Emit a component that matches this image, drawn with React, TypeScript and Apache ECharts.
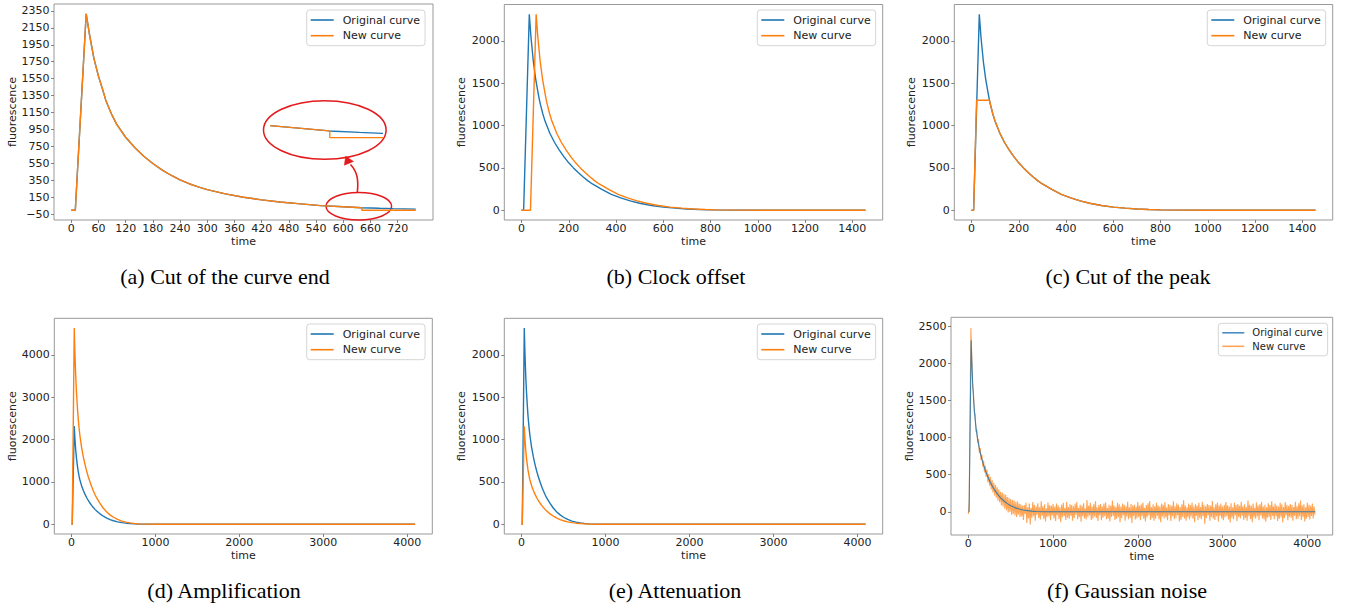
import React, { useEffect, useRef } from 'react';
import * as echarts from 'echarts';

const BLUE = '#1f77b4';
const ORANGE = '#ff7f0e';
const RED = '#e41a1c';

// (a) original curve and the curve with its end cut
const aOrigT = [0, 9, 33, 40, 50, 60, 70, 76, 80, 90, 100, 120, 140, 160, 180, 200, 220, 240, 260, 280, 300, 340, 380, 420, 460, 500, 550, 600, 640, 680, 710, 760];
const aOrigV = [0, 0, 2315, 2080, 1790, 1580, 1410, 1300, 1245, 1120, 1015, 860, 740, 635, 550, 475, 412, 357, 312, 275, 243, 192, 153, 122, 97, 77, 54, 40, 28, 22, 18, 13];
const cutEndT = [0, 9, 33, 40, 50, 60, 70, 76, 80, 90, 100, 120, 140, 160, 180, 200, 220, 240, 260, 280, 300, 340, 380, 420, 460, 500, 550, 600, 641, 641, 760];
const cutEndV = [0, 0, 2315, 2080, 1790, 1580, 1410, 1300, 1245, 1120, 1015, 860, 740, 635, 550, 475, 412, 357, 312, 275, 243, 192, 153, 122, 97, 77, 54, 40, 28, 0, 0];

// (b)-(f) original curve
const origT = [0, 9, 33, 40, 50, 60, 70, 76, 80, 90, 100, 120, 140, 160, 180, 200, 220, 240, 260, 280, 300, 340, 380, 420, 460, 500, 550, 600, 650, 700, 750, 800, 900, 1000, 1456, 4095];
const origV = [0, 0, 2315, 2050, 1760, 1550, 1390, 1300, 1250, 1140, 1050, 910, 800, 710, 630, 560, 500, 445, 395, 350, 310, 245, 188, 145, 110, 82, 56, 37, 24, 15, 8, 4, 1, 0, 0, 0];

// (b) clock offset
const offsetT = [0, 38, 62, 69, 79, 89, 99, 105, 109, 119, 129, 149, 169, 189, 209, 229, 249, 269, 289, 309, 329, 369, 409, 449, 489, 529, 579, 629, 679, 729, 779, 829, 929, 1029, 1456];
const offsetV = [0, 0, 2315, 2050, 1760, 1550, 1390, 1300, 1250, 1140, 1050, 910, 800, 710, 630, 560, 500, 445, 395, 350, 310, 245, 188, 145, 110, 82, 56, 37, 24, 15, 8, 4, 1, 0, 0];

// (c) cut of the peak
const cutPeakT = [0, 9, 21.5, 76, 80, 90, 100, 120, 140, 160, 180, 200, 220, 240, 260, 280, 300, 340, 380, 420, 460, 500, 550, 600, 650, 700, 750, 800, 900, 1000, 1456];
const cutPeakV = [0, 0, 1300, 1300, 1250, 1140, 1050, 910, 800, 710, 630, 560, 500, 445, 395, 350, 310, 245, 188, 145, 110, 82, 56, 37, 24, 15, 8, 4, 1, 0, 0];

// (d) amplification (times = origT)
const ampV = [0, 0, 4630, 4100, 3520, 3100, 2780, 2600, 2500, 2280, 2100, 1820, 1600, 1420, 1260, 1120, 1000, 890, 790, 700, 620, 490, 376, 290, 220, 164, 112, 74, 48, 30, 16, 8, 2, 0, 0, 0];

// (e) attenuation (times = origT)
const attV = [0, 0, 1157, 1025, 880, 775, 695, 650, 625, 570, 525, 455, 400, 355, 315, 280, 250, 222, 198, 175, 155, 122, 94, 72, 55, 41, 28, 18, 12, 8, 4, 2, 0, 0, 0, 0];

// (f) gaussian noise, sampled every NOISE_STEP time units from 0
const NOISE_STEP = 10;
const noisyV = [
  -30, 150, 1290, 2480, 2090, 1680, 1620, 1330, 1320, 1080,
  1110, 930, 980, 790, 860, 700, 770, 610, 690, 530, 620, 470, 570, 400, 510, 350, 470, 300, 430, 260,
  390, 220, 360, 190, 330, 150, 300, 130, 270, 90, 260, 70, 240, 40, 230, 20, 200, -10, 190, 0,
  170, -40, 160, -30, 150, -50, 130, -70, 140, -40, 110,
  -70, 100, -60, 80, -110, 90, -30, 120, -150, 60, -90, 110, -170, 50, -80, 130, -60, 95, -120, 70,
  -40, 115, -85, 60, -105, 140, -55, 75, -95, 100, -130, 45, -70, 125, -65, 90, -115, 80, -50, 105,
  -90, 70, -125, 110, -45, 85, -100, 60, -140, 95, -75, 120, -60, 50, -110, 135, -80, 65, -95, 100,
  -55, 90, -120, 75, -85, 110, -40, 130, -100, 55, -70, 95, -135, 80, -60, 115, -90, 45, -105, 160,
  -75, 85, -50, 120, -110, 70, -95, 100, -65, 140, -85, 60, -125, 90, -45, 105, -115, 75, -80, 110,
  -60, 125, -100, 55, -90, 95, -130, 80, -70, 150, -55, 85, -110, 65, -95, 120, -75, 100, -140, 70,
  -85, 110, -45, 90, -120, 75, -65, 135, -100, 60, -80, 105, -150, 85, -55, 95, -105, 70, -90, 130,
  -70, 80, -115, 100, -60, 125, -95, 55, -130, 90, -75, 115, -50, 145, -110, 65, -85, 100, -120, 75,
  -95, 120, -55, 85, -105, 70, -140, 110, -65, 95, -90, 130, -75, 60, -115, 105, -50, 90, -125, 80,
  -60, 140, -100, 75, -85, 115, -45, 95, -130, 65, -110, 100, -70, 155, -90, 85, -120, 60, -75, 110,
  -105, 90, -65, 125, -95, 70, -140, 100, -55, 85, -115, 120, -80, 65, -100, 135, -60, 95, -160, 75,
  -85, 105, -50, 90, -120, 80, -70, 145, -95, 60, -110, 100, -65, 125, -130, 85, -55, 110, -90, 70,
  -115, 95, -75, 130, -60, 85, -105, 70, -145, 115, -80, 60, -100, 120, -50, 90, -125, 105, -70, 80,
  -90, 135, -55, 75, -110, 100, -85, 65, -120, 150, -60, 95, -100, 80, -140, 110, -75, 55, -95, 125,
  -65, 85, -115, 100, -50, 130, -90, 70, -105, 95, -135, 60, -80, 115, -70, 90, -110, 140, -55, 75,
  -100, 110, -60, 85, -125, 70, -95, 120, -75, 100, -145, 65, -85, 130, -50, 95, -115, 80, -70, 105,
  -80, 90, -120, 65, -55, 135, -100, 75, -90, 115, -60, 150, -110, 85, -75, 100, -130, 60, -95, 120,
  -70, 95, -105, 80, -55, 110, -90, 70, -40,
];

// tick labels
const xTicksA = [0, 60, 120, 180, 240, 300, 360, 420, 480, 540, 600, 660, 720];
const yTicksA = [-50, 150, 350, 550, 750, 950, 1150, 1350, 1550, 1750, 1950, 2150, 2350];
const xTicksBC = [0, 200, 400, 600, 800, 1000, 1200, 1400];
const yTicks2000 = [0, 500, 1000, 1500, 2000];
const xTicksDEF = [0, 1000, 2000, 3000, 4000];
const yTicksD = [0, 1000, 2000, 3000, 4000];
const yTicksF = [0, 500, 1000, 1500, 2000, 2500];

const captions = ['(a) Cut of the curve end', '(b) Clock offset', '(c) Cut of the peak', '(d) Amplification', '(e) Attenuation', '(f) Gaussian noise'];
const names = ['Original curve', 'New curve'];

const pairs = (t: number[], v: number[]) => t.map((x, i) => [x, v[i]]);
const upTo = (t: number[], v: number[], tmax: number) => pairs(t, v).filter((p) => p[0] <= tmax);

export default function App() {
  const ref = useRef<HTMLDivElement>(null);
  useEffect(() => {
    document.body.style.margin = '0';
    const chart = echarts.init(ref.current!, null, { renderer: 'svg' });
    const FONT = 'DejaVu Sans';
    const fmt = (v: number) => String(v).replace('-', '\u2212');

    const grids = [
      { left: 54, top: 4, width: 379, height: 216 },
      { left: 504.3, top: 4.5, width: 378.4, height: 215.5 },
      { left: 954.3, top: 4.5, width: 378.4, height: 215.5 },
      { left: 54.3, top: 318.3, width: 378, height: 215.7 },
      { left: 504.3, top: 318.3, width: 378.4, height: 215.7 },
      { left: 951, top: 317.3, width: 381.7, height: 217.7 },
    ];
    const xr = [[-38, 798], [-72.8, 1528.8], [-72.8, 1528.8], [-204.75, 4299.75], [-204.75, 4299.75], [-204.75, 4299.75]];
    const yr = [[-115.75, 2430.75], [-115.75, 2430.75], [-115.75, 2430.75], [-231.5, 4861.5], [-115.75, 2430.75], [-313.5, 2623.5]];
    const xt = [xTicksA, xTicksBC, xTicksBC, xTicksDEF, xTicksDEF, xTicksDEF];
    const yt = [yTicksA, yTicks2000, yTicks2000, yTicksD, yTicks2000, yTicksF];
    const yNameGap = [36, 37, 37, 36, 37, 33];

    const gridOpt: any[] = grids.map((g) => ({ ...g, show: true, borderColor: '#999', borderWidth: 1, backgroundColor: 'transparent' }));
    gridOpt.push({ left: 271, top: 124.1, width: 110.7, height: 14.7, show: false });

    const xAxis: any[] = grids.map((_, i) => ({
      type: 'value', gridIndex: i, min: xr[i][0], max: xr[i][1],
      axisLine: { show: false, onZero: false },
      splitLine: { show: false },
      axisTick: { show: true, customValues: xt[i], length: 3, lineStyle: { color: '#666', width: 0.8 } },
      axisLabel: { customValues: xt[i], formatter: fmt, margin: 3, color: '#222', fontFamily: FONT, fontSize: 11 },
      name: 'time', nameLocation: 'middle', nameGap: 16,
      nameTextStyle: { fontFamily: FONT, fontSize: 11, color: '#222' },
    }));
    xAxis.push({ type: 'value', gridIndex: 6, min: 564, max: 709, show: false });

    const yAxis: any[] = grids.map((_, i) => ({
      type: 'value', gridIndex: i, min: yr[i][0], max: yr[i][1],
      axisLine: { show: false, onZero: false },
      splitLine: { show: false },
      axisTick: { show: true, customValues: yt[i], length: 3, lineStyle: { color: '#666', width: 0.8 } },
      axisLabel: { customValues: yt[i], formatter: fmt, margin: 4.5, color: '#222', fontFamily: FONT, fontSize: 11 },
      name: 'fluorescence', nameLocation: 'middle', nameGap: yNameGap[i], nameRotate: 90,
      nameTextStyle: { fontFamily: FONT, fontSize: 11, color: '#222' },
    }));
    yAxis.push({ type: 'value', gridIndex: 6, min: -5, max: 57, show: false });

    const line = (name: string, idx: number, data: number[][], color: string, extra: any = {}) => ({
      type: 'line', name, xAxisIndex: idx, yAxisIndex: idx, data, showSymbol: false, symbol: 'none',
      lineStyle: { color, width: 1.4 }, itemStyle: { color }, silent: true, ...extra,
    });

    const noisyPairs = noisyV.map((v, i) => [i * NOISE_STEP, v]);

    const series: any[] = [
      line(names[0], 0, pairs(aOrigT, aOrigV), BLUE),
      line(names[1], 0, pairs(cutEndT, cutEndV), ORANGE),
      line(names[0], 1, upTo(origT, origV, 1456), BLUE),
      line(names[1], 1, pairs(offsetT, offsetV), ORANGE),
      line(names[0], 2, upTo(origT, origV, 1456), BLUE),
      line(names[1], 2, pairs(cutPeakT, cutPeakV), ORANGE),
      line(names[0], 3, pairs(origT, origV), BLUE),
      line(names[1], 3, pairs(origT, ampV), ORANGE),
      line(names[0], 4, pairs(origT, origV), BLUE),
      line(names[1], 4, pairs(origT, attV), ORANGE),
      line(names[0], 5, pairs(origT, origV), BLUE, { z: 4, lineStyle: { color: BLUE, width: 1.1, opacity: 0.85 } }),
      line(names[1], 5, noisyPairs, ORANGE, { z: 3, lineStyle: { color: ORANGE, width: 1.1, opacity: 0.7 } }),
      // inset (magnified view of the cut)
      line('inset-orig', 6, pairs(aOrigT, aOrigV), BLUE, { clip: true, lineStyle: { color: BLUE, width: 1.3 } }),
      line('inset-new', 6, pairs(cutEndT, cutEndV), ORANGE, { clip: true, lineStyle: { color: ORANGE, width: 1.3 } }),
    ];

    const legendPos = [
      [306.7, 10, 11], [757.3, 10, 11], [1207.3, 10, 11],
      [306.7, 324, 11], [757.3, 324, 11], [1218.3, 323.3, 10],
    ];
    const legend = legendPos.map(([l, t, fs], i) => ({
      orient: 'vertical', left: l, top: t, icon: 'rect', itemWidth: i === 5 ? 22 : 23, itemHeight: 1.6,
      itemGap: i === 5 ? 3.5 : 4.7,
      padding: [4.5, 5, 4.5, 4],
      backgroundColor: 'rgba(255,255,255,0.8)', borderColor: '#d5d5d5', borderWidth: 1, borderRadius: 3,
      selectedMode: false,
      textStyle: { fontFamily: FONT, fontSize: fs, color: '#222', padding: [0, 0, 0, i === 5 ? 3 : 4] },
      data: i === 5
        ? [{ name: names[0], itemStyle: { color: '#4a8cc4' } }, { name: names[1], itemStyle: { color: '#ffa65a' } }]
        : [{ name: names[0], itemStyle: { color: BLUE } }, { name: names[1], itemStyle: { color: ORANGE } }],
    }));

    const capPos = [[225, 276], [676, 276], [1128, 276], [224, 590], [675, 590], [1127, 590]];
    const graphic: any[] = capPos.map(([x, y], i) => ({
      type: 'text', x, y, silent: true,
      style: { text: captions[i], fill: '#000', font: '22px "Liberation Serif"', fontSize: 22, fontFamily: 'Liberation Serif', align: 'center', verticalAlign: 'middle', textAlign: 'center', textVerticalAlign: 'middle' },
    }));
    graphic.push(
      { type: 'ellipse', silent: true, shape: { cx: 324.8, cy: 130, rx: 61.3, ry: 29.3 }, style: { fill: 'none', stroke: RED, lineWidth: 1.5 } },
      { type: 'ellipse', silent: true, shape: { cx: 358.8, cy: 206.2, rx: 32.8, ry: 13.8 }, style: { fill: 'none', stroke: RED, lineWidth: 1.5 } },
      { type: 'bezierCurve', silent: true, shape: { x1: 357.3, y1: 192.4, cpx1: 358.6, cpy1: 180, cpx2: 357.5, cpy2: 172, x2: 350.5, y2: 164.5 }, style: { fill: 'none', stroke: RED, lineWidth: 1.6 } },
      { type: 'polygon', silent: true, shape: { points: [[345.7, 156.3], [344.3, 165.2], [353.5, 161.5]] }, style: { fill: RED, stroke: RED, lineWidth: 0.5 } },
    );

    chart.setOption({
      animation: false,
      backgroundColor: '#fff',
      grid: gridOpt,
      xAxis,
      yAxis,
      series,
      legend,
      graphic,
    });
    return () => chart.dispose();
  }, []);
  return <div ref={ref} style={{ position: 'absolute', left: 0, top: 0, width: 1348, height: 605 }} />;
}
